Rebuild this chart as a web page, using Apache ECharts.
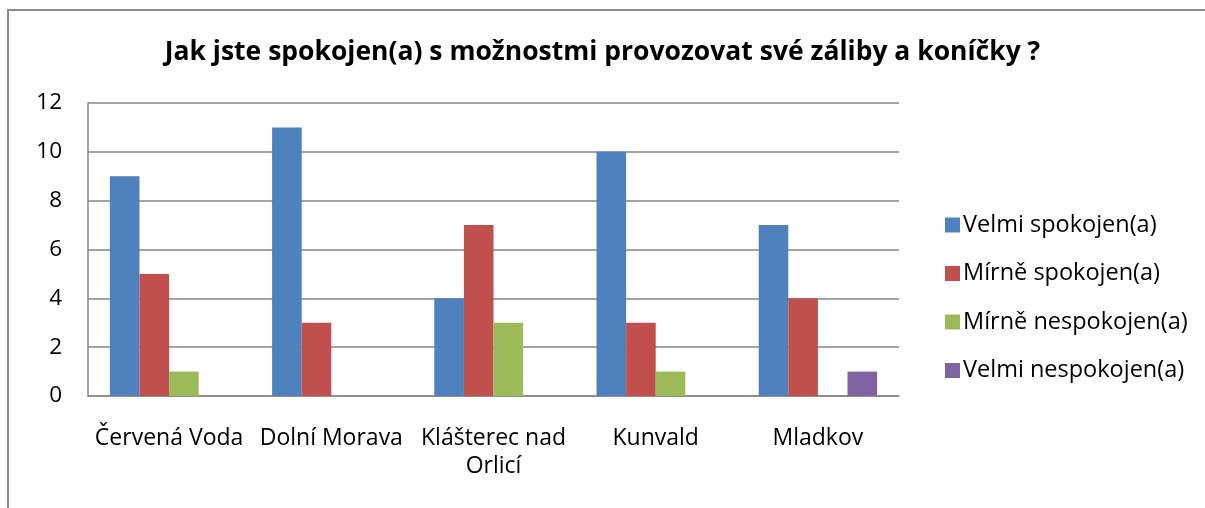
<!DOCTYPE html>
<html><head><meta charset="utf-8">
<script src="https://cdn.jsdelivr.net/npm/echarts@6/dist/echarts.min.js"></script>
<style>
html,body{margin:0;padding:0;background:#fff;overflow:hidden;}
#frame{position:absolute;left:7px;top:9px;width:1300px;height:600px;border:2px solid #8c8c8c;box-sizing:border-box;}
#c{position:absolute;left:0;top:0;width:1205px;height:508px;}
</style></head>
<body><div id="frame"></div><div id="c"></div>
<script>
const categories = ['Červená Voda', 'Dolní Morava', 'Klášterec nad\nOrlicí', 'Kunvald', 'Mladkov'];
const seriesNames = ['Velmi spokojen(a)', 'Mírně spokojen(a)', 'Mírně nespokojen(a)', 'Velmi nespokojen(a)'];
const velmiSpokojen = [9, 11, 4, 10, 7];
const mirneSpokojen = [5, 3, 7, 3, 4];
const mirneNespokojen = [1, 0, 3, 1, 0];
const velmiNespokojen = [0, 0, 0, 0, 1];
const yTicks = [0, 2, 4, 6, 8, 10, 12];
const colors = ['#4F81BD', '#C0504D', '#9BBB59', '#8064A2'];
const values = [velmiSpokojen, mirneSpokojen, mirneNespokojen, velmiNespokojen];
const FONT = 'Open Sans';
const chart = echarts.init(document.getElementById('c'), null, {renderer: 'canvas'});
chart.setOption({
  animation: false,
  color: colors,
  title: {
    text: 'Jak jste spokojen(a) s možnostmi provozovat své záliby a koníčky ?',
    left: 'center', top: 34,
    textStyle: {fontFamily: FONT, fontSize: 26.5, fontWeight: 'bold', color: '#000'}
  },
  legend: {
    orient: 'vertical', left: 940, top: 208, itemGap: 24.5,
    itemWidth: 15, itemHeight: 15, icon: 'rect',
    textStyle: {fontFamily: FONT, fontSize: 23.5, color: '#000', padding: [0,0,0,-2]},
    data: seriesNames
  },
  grid: {left: 88, right: 306, top: 103, bottom: 112, containLabel: false},
  xAxis: {
    type: 'category', data: categories,
    axisLine: {lineStyle: {color: '#868686', width: 1.5}},
    axisTick: {show: false},
    axisLabel: {fontFamily: FONT, fontSize: 23, color: '#000', margin: 28, lineHeight: 28, interval: 0}
  },
  yAxis: {
    type: 'value', min: yTicks[0], max: yTicks[yTicks.length-1], interval: 2,
    axisLine: {show: true, lineStyle: {color: '#868686', width: 1.5}},
    axisTick: {show: false},
    splitLine: {lineStyle: {color: '#868686', width: 1.5}},
    axisLabel: {fontFamily: FONT, fontSize: 22.5, color: '#000', margin: 26}
  },
  series: seriesNames.map((n, i) => ({
    name: n, type: 'bar', data: values[i],
    barGap: '0%', barCategoryGap: '27%',
    itemStyle: {color: colors[i]}
  }))
});
</script></body></html>
